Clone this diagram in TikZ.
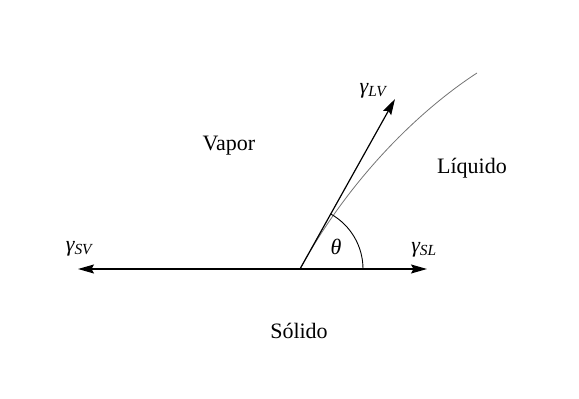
\documentclass[tikz,border=0pt]{standalone}
\usepackage{fontspec}
\setmainfont{Liberation Serif}
\usetikzlibrary{arrows.meta}

\newcommand{\gamlabel}[1]{{\itshape γ\textsubscript{#1}}}

\begin{document}
\begin{tikzpicture}[x=1pt, y=1pt, font=\fontsize{22}{26}\selectfont,
    force/.style={draw, black, line width=1.2pt, -{Stealth[length=16pt, width=9pt, inset=2.5pt]}},
    interface/.style={draw, black!55, line width=0.8pt},
    angmark/.style={draw, black, line width=0.9pt},
    phase/.style={anchor=base, inner sep=0pt},
    forcelabel/.style={inner sep=0pt}]

    \useasboundingbox (0,0) rectangle (579,399);

    % Contact point and the ends of the three tensions
    \coordinate (contact) at (300,130);
    \coordinate (svtip) at (78,130);
    \coordinate (sltip) at (427,130);
    \coordinate (lvtip) at (395,300);
    \coordinate (dropend) at (477,326);

    % Phase names
    \node[phase] (vapor) at (229,248) {Vapor};
    \node[phase] (liquido) at (472,225) {Líquido};
    \node[phase] (solido) at (299,60) {Sólido};

    % Labels of the tensions
    \node[forcelabel] (gsv) at (79,150) {\gamlabel{SV}};
    \node[forcelabel] (gsl) at (424,149) {\gamlabel{SL}};
    \node[forcelabel] (glv) at (373,308) {\gamlabel{LV}};
    \node[forcelabel] (theta) at (336,152) {\textit{θ}};

    % Liquid surface
    \draw[interface] (contact) .. controls (348,218) and (417,287) .. (dropend);

    % Tension vectors
    \draw[force] (contact) -- (svtip);
    \draw[force] (contact) -- (sltip);
    \draw[force] (contact) -- (lvtip);

    % Contact angle
    \draw[angmark] ([xshift=63pt]contact) arc[start angle=0, end angle=61, radius=63pt];

\end{tikzpicture}
\end{document}
